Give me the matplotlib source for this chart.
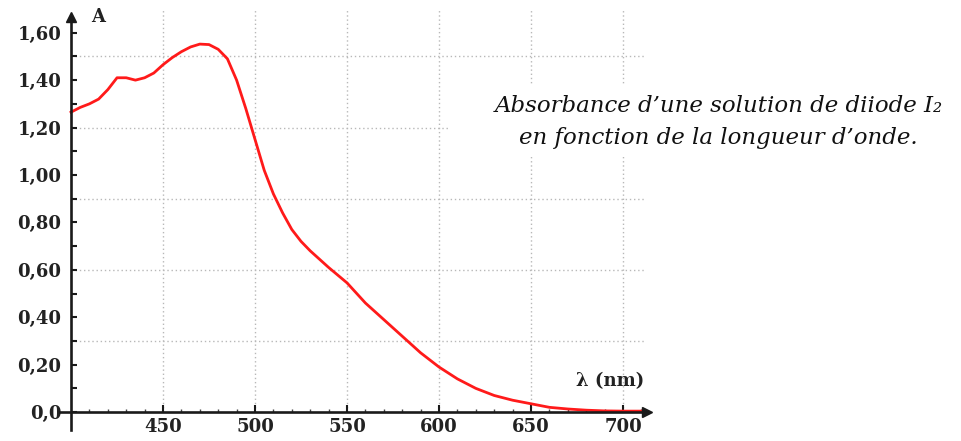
import numpy as np
import matplotlib.pyplot as plt
from matplotlib.ticker import FixedLocator

# Absorbance du diiode en fonction de la longueur d'onde (valeurs lues)
wavelength = [400, 405, 410, 415, 420, 425, 430, 435, 440, 445, 450, 455, 460,
              465, 470, 475, 480, 485, 490, 495, 500, 505, 510, 515, 520, 525,
              530, 540, 550, 560, 570, 580, 590, 600, 610, 620, 630, 640, 650,
              660, 670, 680, 690, 700, 712]
absorbance = [1.265, 1.285, 1.30, 1.32, 1.36, 1.41, 1.41, 1.40, 1.41, 1.43,
              1.465, 1.495, 1.52, 1.54, 1.552, 1.55, 1.53, 1.49, 1.40, 1.28,
              1.15, 1.02, 0.92, 0.84, 0.77, 0.72, 0.68, 0.61, 0.545, 0.46,
              0.39, 0.32, 0.25, 0.19, 0.14, 0.10, 0.07, 0.05, 0.035, 0.02,
              0.013, 0.008, 0.005, 0.004, 0.004]

x_ticks = [450, 500, 550, 600, 650, 700]
y_ticks = [0.0, 0.2, 0.4, 0.6, 0.8, 1.0, 1.2, 1.4, 1.6]
y_minor = [0.1, 0.3, 0.5, 0.7, 0.9, 1.1, 1.3, 1.5]
y_labels = ["0,0", "0,20", "0,40", "0,60", "0,80", "1,00", "1,20", "1,40", "1,60"]
grid_y = [0.3, 0.6, 0.9, 1.2, 1.5]
grid_y_end = [712, 712, 712, 606, 712]

fig = plt.figure(figsize=(9.61, 4.41), dpi=100)
ax = fig.add_axes([0, 0, 1, 1])
ax.set_xlim(361.4, 883.7)
ax.set_ylim(-0.122, 1.738)

# grille pointillée
grid_kw = dict(color="#b8b8b8", linestyle=(0, (1, 2)), linewidth=1, zorder=1)
ax.vlines(x_ticks, 0, 1.70, **grid_kw)
for g, xe in zip(grid_y, grid_y_end):
    ax.hlines(g, 400, xe, **grid_kw)

# courbe
ax.plot(wavelength, absorbance, color="#ff1a1a", linewidth=2, zorder=3)

# axes avec flèches
for s in ["top", "right"]:
    ax.spines[s].set_visible(False)
ax.spines["left"].set_position(("data", 400))
ax.spines["bottom"].set_position(("data", 0))
ax.spines["left"].set_bounds(-0.076, 1.66)
ax.spines["bottom"].set_bounds(394, 710)
for s in ["left", "bottom"]:
    ax.spines[s].set_linewidth(1.9)
    ax.spines[s].set_color("#1a1a1a")
    ax.spines[s].set_zorder(4)
ax.plot(400, 1.665, marker="^", color="#1a1a1a", markersize=7, clip_on=False, zorder=5)
ax.plot(713, 0, marker=">", color="#1a1a1a", markersize=7, clip_on=False, zorder=5)

ax.xaxis.set_major_locator(FixedLocator(x_ticks))
ax.xaxis.set_minor_locator(FixedLocator(np.arange(410, 711, 10)))
ax.yaxis.set_major_locator(FixedLocator(y_ticks))
ax.yaxis.set_minor_locator(FixedLocator(y_minor))
ax.set_yticklabels(y_labels)

ax.tick_params(axis="y", which="both", direction="in", length=4, width=1.5,
               color="#1a1a1a", pad=7)
ax.tick_params(axis="x", which="major", direction="in", length=5, width=1.5,
               color="#1a1a1a", pad=4)
ax.tick_params(axis="x", which="minor", direction="in", length=2.5, width=1,
               color="#444444")
for lab in ax.get_xticklabels() + ax.get_yticklabels():
    lab.set_fontfamily("DejaVu Serif")
    lab.set_fontweight("bold")
    lab.set_fontsize(13)
    lab.set_color("#222222")

ax.text(415, 1.665, "A", fontfamily="DejaVu Serif", fontweight="bold",
        fontsize=13, color="#222222", ha="center", va="center")
ax.text(693, 0.13, "λ (nm)", fontfamily="DejaVu Serif", fontweight="bold",
        fontsize=13, color="#222222", ha="center", va="center")

ax.text(752, 1.225, "Absorbance d\u2019une solution de diiode I\u2082\n"
        "en fonction de la longueur d\u2019onde.",
        fontfamily="DejaVu Serif", style="italic", fontsize=16.5,
        color="#111111", ha="center", va="center", linespacing=1.6,
        zorder=6, bbox=dict(facecolor="white", edgecolor="none", pad=6))

fig.savefig("out.png", dpi=100)
